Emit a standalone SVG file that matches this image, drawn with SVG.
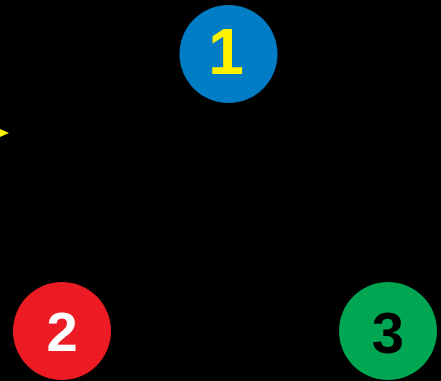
<svg xmlns="http://www.w3.org/2000/svg" width="441" height="381" viewBox="0 0 441 381">
<style>
.lbl{font-family:"Liberation Sans",Arial,sans-serif;font-weight:bold;text-anchor:middle}
</style>
<rect width="441" height="381" fill="#000"/>
<g id="connectors">
<polygon points="0,129 9,133 0,137" fill="#FFF200"/>
</g>
<g id="node1">
<circle cx="228.5" cy="54" r="49" fill="#007DC5"/>
<text class="lbl" x="226" y="74" font-size="64" fill="#FFF200">1</text>
</g>
<g id="node2">
<circle cx="62" cy="331" r="49" fill="#ED1C24"/>
<text class="lbl" x="62" y="351" font-size="56" fill="#FFFFFF">2</text>
</g>
<g id="node3">
<circle cx="388" cy="331" r="49" fill="#00A651"/>
<text class="lbl" x="388" y="353" font-size="58" fill="#000000">3</text>
</g>
</svg>
